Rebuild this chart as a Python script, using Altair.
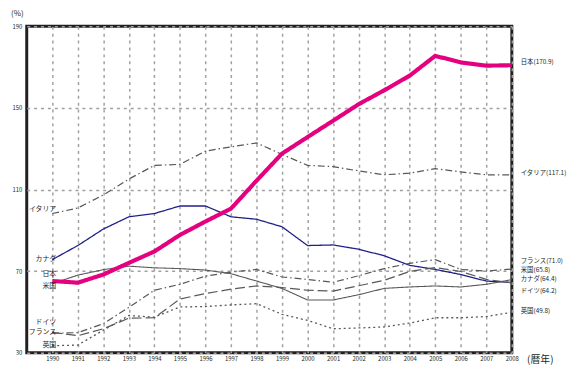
import altair as alt
import pandas as pd

years = list(range(1990, 2009))
japan = [65.1, 64.3, 68.3, 74.0, 79.6, 87.7, 94.3, 100.6, 114.3, 127.6, 135.7, 143.7, 151.8, 158.6, 165.8, 175.5, 172.3, 170.7, 170.9]
italy = [98.2, 100.9, 107.3, 115.1, 121.8, 122.3, 128.8, 130.9, 132.8, 127.2, 121.8, 121.2, 119.1, 117.2, 118.0, 120.2, 118.6, 117.2, 117.1]
canada = [75.6, 82.5, 90.6, 96.6, 98.2, 101.9, 101.9, 96.6, 95.4, 91.7, 82.5, 82.8, 80.7, 77.5, 72.8, 70.8, 68.3, 65.1, 64.4]
usa = [63.8, 68.0, 70.7, 72.4, 71.6, 71.2, 70.5, 68.7, 65.1, 61.5, 55.8, 55.8, 58.4, 61.5, 62.2, 62.7, 62.2, 63.5, 65.8]
france = [39.5, 39.8, 44.2, 52.2, 60.6, 63.5, 67.5, 69.5, 70.8, 67.1, 65.9, 64.5, 67.7, 71.2, 73.8, 75.6, 70.8, 70.0, 71.0]
germany = [40.0, 38.3, 41.7, 46.9, 47.1, 56.3, 59.0, 61.1, 62.7, 61.9, 60.6, 60.2, 62.8, 65.5, 69.8, 71.7, 69.8, 65.9, 64.2]
uk = [33.4, 33.7, 41.0, 48.2, 47.4, 52.4, 52.6, 53.4, 54.0, 48.8, 45.8, 41.7, 42.1, 42.6, 44.5, 47.1, 47.1, 47.7, 49.8]

names = ["イタリア", "カナダ", "米国", "フランス", "ドイツ", "英国", "日本"]
series = [italy, canada, usa, france, germany, uk, japan]
colors = ["#595757", "#1d2088", "#595757", "#595757", "#595757", "#595757", "#e4007f"]
dashes = [[7, 3, 1.5, 3], [1, 0], [1, 0], [7, 3, 1.5, 3], [10, 4], [2, 3], [1, 0]]
widths = [1.2, 1.3, 1.1, 1.2, 1.2, 1.3, 4.2]

# end labels (right side) and start labels (left side)
right_labels = ["日本(170.9)", "イタリア(117.1)", "フランス(71.0)", "米国(65.8)", "カナダ(64.4)", "ドイツ(64.2)", "英国(49.8)"]
right_label_y = [172.3, 118.0, 74.8, 70.6, 65.9, 60.3, 50.6]
left_labels = ["イタリア", "カナダ", "日本", "米国", "ドイツ", "フランス", "英国"]
left_label_y = [100.6, 75.9, 68.7, 62.9, 45.0, 40.1, 33.9]
y_ticks = [30, 70, 110, 150, 190]

x_axis = alt.Axis(
    values=years, format="d", title="(暦年)",
    titleX=507, titleY=7, titleAlign="left", titleBaseline="middle",
    titleFontSize=10, titleFontWeight="normal", titleColor="#231f20",
    labelFontSize=6, labelPadding=3, labelColor="#231f20", labelFlush=False,
    labelOverlap=False,
    ticks=False, domain=False, grid=True,
    gridDash=[3, 4], gridColor="#a0a0a0", gridWidth=1.5,
)
y_axis = alt.Axis(
    values=y_ticks, title="(%)",
    titleAngle=0, titleX=-10, titleY=-13, titleAlign="center", titleBaseline="middle",
    titleFontSize=8, titleFontWeight="normal", titleColor="#231f20",
    labelFontSize=6, labelPadding=5, labelColor="#231f20", labelFlush=False,
    labelOverlap=False,
    ticks=False, domain=False, grid=True,
    gridDash=[3, 4], gridColor="#a0a0a0", gridWidth=1.5,
)
x_scale = alt.Scale(domain=[1989, 2008], nice=False, zero=False)
y_scale = alt.Scale(domain=[30, 190], nice=False, zero=False)


def xe():
    return alt.X("year:Q", scale=x_scale, axis=x_axis)


def ye():
    return alt.Y("value:Q", scale=y_scale, axis=y_axis)


layers = []
for i, (n, vals) in enumerate(zip(names, series)):
    d = pd.DataFrame({"year": years, "value": vals, "country": n})
    layers.append(
        alt.Chart(d).mark_line(color=colors[i], strokeDash=dashes[i], strokeWidth=widths[i]).encode(
            x=xe(), y=ye()
        )
    )

rdf = pd.DataFrame({"label": right_labels, "value": right_label_y, "year": [2008] * len(right_labels)})
ldf = pd.DataFrame({"label": left_labels, "value": left_label_y, "year": [1990] * len(left_labels)})

rtext = alt.Chart(rdf).mark_text(align="left", baseline="middle", dx=9, fontSize=6.5, color="#231f20").encode(
    x=xe(), y=ye(), text="label:N"
)
ltext = alt.Chart(ldf).mark_text(align="right", baseline="middle", dx=4, fontSize=7, color="#231f20").encode(
    x=xe(), y=ye(), text="label:N"
)

chart = alt.layer(*layers, rtext, ltext).properties(
    width=492, height=331,
    padding={"left": 19, "top": 16, "right": 60, "bottom": 11},
    autosize=alt.AutoSizeParams(type="none"),
).configure(font="Noto Sans CJK JP").configure_view(stroke="#231f20", strokeWidth=3)

chart.save("out.html", embed_options={"renderer": "svg", "actions": False})
